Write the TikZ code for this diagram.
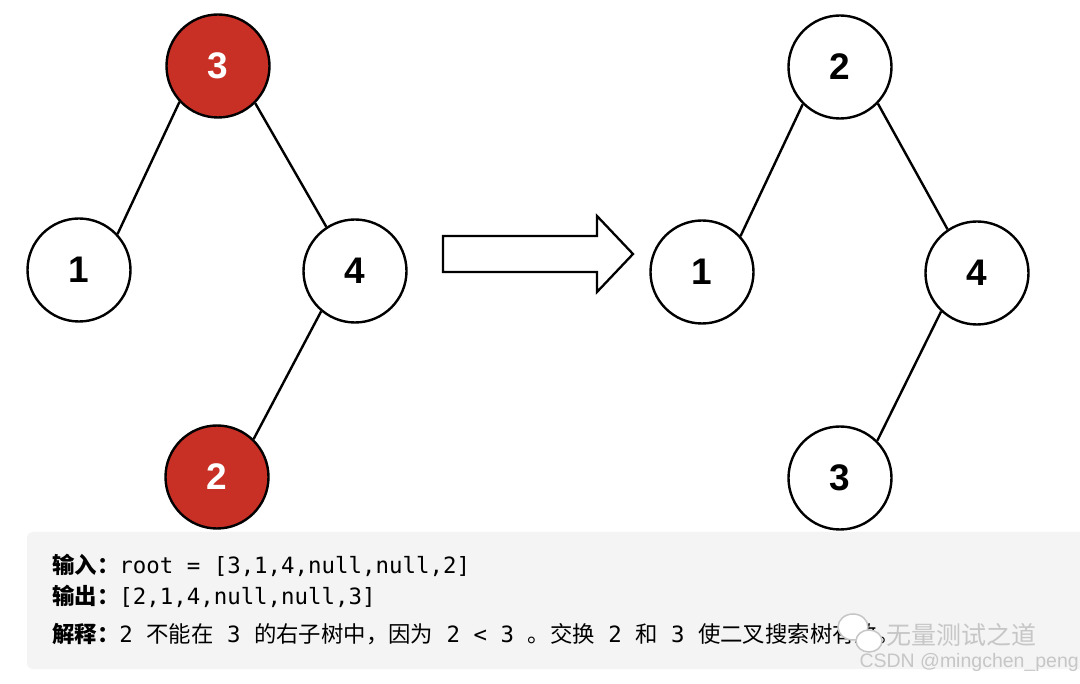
\documentclass[tikz,border=0pt]{standalone}
\usepackage{fontspec}
\setmainfont{Liberation Sans}
\setmonofont{DejaVu Sans Mono}
\newfontfamily\cjk{Noto Sans CJK SC}
\definecolor{nodered}{RGB}{200,48,38}
\definecolor{boxgray}{RGB}{244,244,244}
\definecolor{wmgray}{RGB}{198,198,198}
\tikzset{
  treenode/.style={circle,draw=black,line width=2.4pt,minimum size=103pt,inner sep=0pt,fill=white,
    font=\fontsize{37}{37}\selectfont\bfseries,text=black},
  rednode/.style={treenode,fill=nodered,text=white},
  edge/.style={line width=2.4pt,draw=black},
  blockarrow/.style={line width=2.3pt,draw=black,fill=white,line join=miter},
  codeline/.style={anchor=base west,inner sep=0pt,font=\fontsize{22.4}{22.4}\selectfont},
  bubble/.style={draw=wmgray,line width=1.5pt,fill=white},
}
\newcommand{\lab}[1]{{\cjk\fontsize{22.4}{22.4}\selectfont\bfseries #1}}
\newcommand{\zh}[1]{{\cjk\fontsize{22.4}{22.4}\selectfont #1}}
\begin{document}
\begin{tikzpicture}[x=1pt,y=-1pt]
\useasboundingbox (0,0) rectangle (1080,684);
\fill[white] (0,0) rectangle (1080,684);
% text box
\fill[boxgray,rounded corners=6pt] (27,532) rectangle (1095,669);
% left tree
\node[rednode] (l3) at (218,66) {3};
\node[treenode] (l1) at (79,270) {1};
\node[treenode] (l4) at (355,271) {4};
\node[rednode] (l2) at (217,477) {2};
\draw[edge] (l3.223) -- (l1.43);
\draw[edge] (l3.-45) -- (l4.123);
\draw[edge] (l4.230) -- (l2.46);
% right tree
\node[treenode] (r2) at (840,67) {2};
\node[treenode] (r1) at (702,272) {1};
\node[treenode] (r4) at (977,273) {4};
\node[treenode] (r3) at (840,478) {3};
\draw[edge] (r2.225) -- (r1.43);
\draw[edge] (r2.-44) -- (r4.124);
\draw[edge] (r4.227) -- (r3.45);
% block arrow
\draw[blockarrow] (443,236) -- (597,236) -- (597,216) -- (633,254) -- (597,292) -- (597,272) -- (443,272) -- cycle;
% text
\node[codeline] (t1) at (52,574) {\lab{输入：}\ttfamily root = [3,1,4,null,null,2]};
\node[codeline] (t2) at (52,605) {\lab{输出：}\ttfamily [2,1,4,null,null,3]};
\node[codeline] (t3) at (52,642) {\lab{解释：}\ttfamily 2 \zh{不能在} 3 \zh{的右子树中，因为} 2 < 3 \zh{。交换} 2 \zh{和} 3 \zh{使二叉搜索树有效。}};
% watermark
\draw[bubble] (853,627) ellipse (15 and 13);
\draw[bubble] (869,641) ellipse (13 and 11);
\node[anchor=base west,inner sep=0pt,text=wmgray,font=\cjk\fontsize{25}{25}\selectfont] (wm1) at (886,644) {无量测试之道};
\node[anchor=base east,inner sep=0pt,text=wmgray,font=\fontsize{19.5}{19.5}\selectfont] (wm2) at (1079,667) {CSDN @mingchen\_peng};
\end{tikzpicture}
\end{document}
